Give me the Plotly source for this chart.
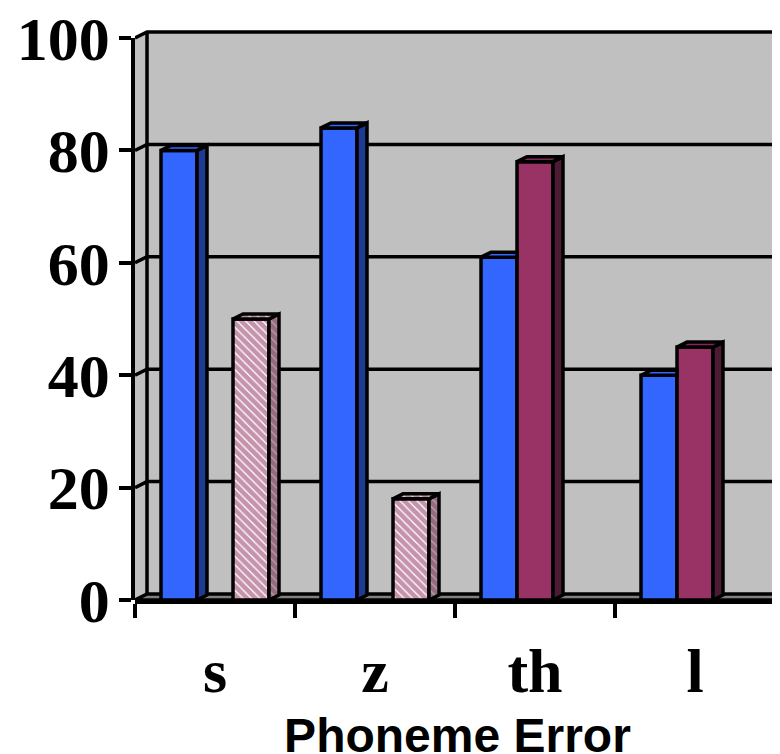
import plotly.graph_objects as go

# ---------------- data ----------------
categories = ["s", "z", "th", "l"]
blue_vals = [80, 84, 61, 40]
maroon_vals = [None, None, 78, 45]
pink_vals = [50, 18, None, None]
y_ticks = [0, 20, 40, 60, 80, 100]
x_title = "Phoneme Error"

# ---------------- style / geometry ----------------
# page body adds an 8px offset, margins compensate for it
W, H = 780, 754
M_L, M_R, M_T, M_B = 127, 8, 20, 162
PX_PER_CAT = 160.0
PX_PER_UNIT = 5.62
plot_w = W - M_L - M_R
plot_h = H - M_T - M_B
X0 = -0.5
XR = X0 + plot_w / PX_PER_CAT
YTOP = plot_h / PX_PER_UNIT
WALL_DX, WALL_DY = 12 / PX_PER_CAT, 6 / PX_PER_UNIT
BAR_DX, BAR_DY = 10 / PX_PER_CAT, 5 / PX_PER_UNIT
BAR_W = 0.225
X_END = len(categories) - 0.5
LW = 3.5

GRAY = "#C0C0C0"
FLOOR = "#808080"
BLUE, BLUE_SIDE, BLUE_TOP = "#3366FF", "#1F3A93", "#3366FF"
MAR, MAR_SIDE, MAR_TOP = "#993366", "#4D1A33", "#7F2A55"
HATCH = "#8C2A5A"

series = [
    dict(vals=blue_vals, color=BLUE, side=BLUE_SIDE, top=BLUE_TOP, pattern=None),
    dict(vals=maroon_vals, color=MAR, side=MAR_SIDE, top=MAR_TOP, pattern=None),
    dict(vals=pink_vals, color="white", side="#A8A8A8", top="#E8E8E8", pattern=HATCH),
]
n_ser = len(series)
offsets = [-(n_ser * BAR_W) / 2 + i * BAR_W for i in range(n_ser)]

fig = go.Figure()

# ---------------- walls, floor and gridlines (shapes below traces) ----------------
shapes = []
wall_path = (f"M {X0},0 L {X0},{y_ticks[-1]} L {X0+WALL_DX},{y_ticks[-1]+WALL_DY} "
             f"L {X_END+WALL_DX},{y_ticks[-1]+WALL_DY} L {X_END+WALL_DX},0 Z")
shapes.append(dict(type="path", path=wall_path, xref="x", yref="y",
                   fillcolor=GRAY, line=dict(width=0), layer="below"))
floor_path = (f"M {X0},0 L {X0+WALL_DX},{WALL_DY} L {X_END+WALL_DX},{WALL_DY} "
              f"L {X_END},0 Z")
shapes.append(dict(type="path", path=floor_path, xref="x", yref="y",
                   fillcolor=FLOOR, line=dict(color="black", width=LW), layer="below"))
for v in y_ticks[1:]:
    p = f"M {X0},{v} L {X0+WALL_DX},{v+WALL_DY} L {X_END+WALL_DX+0.2},{v+WALL_DY}"
    shapes.append(dict(type="path", path=p, xref="x", yref="y",
                       line=dict(color="black", width=LW), layer="below"))
shapes.append(dict(type="path",
                   path=f"M {X0+WALL_DX},{WALL_DY} L {X0+WALL_DX},{y_ticks[-1]+WALL_DY}",
                   xref="x", yref="y", line=dict(color="black", width=LW), layer="below"))

# ---------------- bars (front faces) ----------------
PAT = dict(shape="\\", size=6, solidity=0.8)
for i, s in enumerate(series):
    marker = dict(color=s["color"], line=dict(color="black", width=LW))
    if s["pattern"]:
        marker["pattern"] = dict(fgcolor=s["pattern"], bgcolor="white", **PAT)
    fig.add_trace(go.Bar(x=list(range(len(categories))), y=s["vals"], width=BAR_W,
                         offset=offsets[i], marker=marker, showlegend=False,
                         hoverinfo="skip"))

# ---------------- 3D side and top faces ----------------
for i, s in enumerate(series):
    nxt = series[i + 1]["vals"] if i + 1 < n_ser else [None] * len(categories)
    sx, sy, tx, ty = [], [], [], []
    for j, v in enumerate(s["vals"]):
        if v is None:
            continue
        xl = j + offsets[i]
        xr = xl + BAR_W
        nv = nxt[j]
        if nv is not None and nv >= v:
            tx += [xl, xl + BAR_DX, xr, xr, xl, None]
            ty += [v, v + BAR_DY, v + BAR_DY, v, v, None]
        else:
            lo = nv if nv is not None else 0
            sx += [xr, xr + BAR_DX, xr + BAR_DX, xr, xr, None]
            sy += [lo, lo + BAR_DY, v + BAR_DY, v, lo, None]
            tx += [xl, xl + BAR_DX, xr + BAR_DX, xr, xl, None]
            ty += [v, v + BAR_DY, v + BAR_DY, v, v, None]
    for xs, ys, col in ((sx, sy, s["side"]), (tx, ty, s["top"])):
        if not xs:
            continue
        kw = {}
        if s["pattern"]:
            kw["fillpattern"] = dict(fgcolor=s["pattern"], bgcolor=col, **PAT)
        fig.add_trace(go.Scatter(x=xs, y=ys, mode="lines", fill="toself",
                                 fillcolor=col, line=dict(color="black", width=LW),
                                 showlegend=False, hoverinfo="skip", **kw))

# empty trace so the front value axis (y2) is drawn
fig.add_trace(go.Scatter(x=[None], y=[None], yaxis="y2", mode="lines",
                         showlegend=False, hoverinfo="skip"))

front_top = y_ticks[-1] / YTOP

fig.update_layout(
    width=W, height=H,
    margin=dict(l=M_L, r=M_R, t=M_T, b=M_B, pad=0),
    paper_bgcolor="white", plot_bgcolor="rgba(0,0,0,0)",
    barmode="overlay", showlegend=False,
    shapes=shapes,
    xaxis=dict(range=[X0, XR], tickmode="array", tickvals=list(range(len(categories))),
               ticktext=categories, ticks="", showgrid=False, zeroline=False,
               showline=True, linecolor="black", linewidth=LW, automargin=False,
               tickfont=dict(family="Liberation Serif", size=62, color="black", weight="bold"),
               ticklabelstandoff=14, ticklabeloverflow="allow",
               minor=dict(tickmode="array", tickvals=[k - 0.5 for k in range(len(categories) + 1)],
                          ticks="outside", ticklen=14, tickwidth=LW, tickcolor="black",
                          showgrid=False),
               title=dict(text=x_title, standoff=34,
                          font=dict(family="Liberation Sans", size=48, color="black", weight="bold")),
               fixedrange=True),
    yaxis=dict(range=[0, YTOP], visible=False, fixedrange=True, automargin=False),
    yaxis2=dict(range=[0, y_ticks[-1]], domain=[0, front_top], anchor="x",
                tickmode="array", tickvals=y_ticks, ticks="outside", ticklen=12,
                tickwidth=LW, tickcolor="black", showline=True, linecolor="black",
                linewidth=LW, showgrid=False, zeroline=False, ticklabelstandoff=-3,
                automargin=False, ticklabeloverflow="allow",
                tickfont=dict(family="Liberation Serif", size=62, color="black", weight="bold"),
                fixedrange=True),
)

fig.write_html("out.html")
